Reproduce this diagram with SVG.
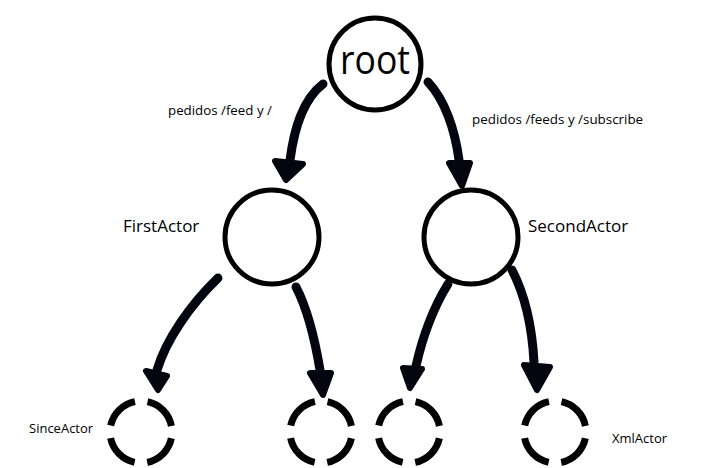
<svg xmlns="http://www.w3.org/2000/svg" width="722" height="468" viewBox="0 0 722 468">
<style>
.node{fill:#fff;stroke:#000;stroke-width:5}
.dash{fill:none;stroke:#000;stroke-width:7;stroke-dasharray:36 12.7;stroke-dashoffset:42.35}
.edge{fill:none;stroke:#05050f;stroke-width:9;stroke-linecap:round}
.head{fill:#05050f;stroke:#05050f;stroke-width:6;stroke-linejoin:round}
.lbl{font-family:"Open Sans","Noto Sans","Liberation Sans",sans-serif;fill:#000}
</style>
<rect width="722" height="468" fill="#fff"/>
<g id="connectors">
<path class="edge" d="M323,84 C302,100 294,130 290,160"/>
<polygon class="head" points="275,161 303,164 286,180"/>
<path class="edge" d="M428,82 C445,100 455,130 459,160"/>
<polygon class="head" points="449,163 470,163 462,186"/>
<path class="edge" d="M218,278 C190,305 166,340 157,370"/>
<polygon class="head" points="146,371 167,376 158,390"/>
<path class="edge" d="M296,287 C308,310 315,340 320,370"/>
<polygon class="head" points="310,373 331,373 323,395"/>
<path class="edge" d="M448,284 C435,305 423,335 416,366"/>
<polygon class="head" points="403,368 422,369 410,388"/>
<path class="edge" d="M512,270 C525,295 532,325 534,362"/>
<polygon class="head" points="524,365 550,367 537,390"/>
<text class="lbl" x="168" y="115" font-size="13.3">pedidos /feed y /</text>
<text class="lbl" x="472" y="124" font-size="13.4">pedidos /feeds y /subscribe</text>
</g>
<g id="root">
<circle class="node" cx="375" cy="64" r="46"/>
<text class="lbl" x="375" y="74" font-size="40" text-anchor="middle" textLength="70" lengthAdjust="spacingAndGlyphs">root</text>
</g>
<g id="FirstActor">
<circle class="node" cx="272" cy="237" r="47"/>
<text class="lbl" x="123" y="232" font-size="17">FirstActor</text>
</g>
<g id="SecondActor">
<circle class="node" cx="471" cy="237" r="47"/>
<text class="lbl" x="528" y="232" font-size="17">SecondActor</text>
</g>
<g id="SinceActor">
<circle class="dash" cx="141" cy="432" r="31"/>
<text class="lbl" x="29" y="433" font-size="13">SinceActor</text>
</g>
<g id="leaf2">
<circle class="dash" cx="321" cy="432" r="31"/>
</g>
<g id="leaf3">
<circle class="dash" cx="409" cy="432" r="31"/>
</g>
<g id="XmlActor">
<circle class="dash" cx="555" cy="432" r="31"/>
<text class="lbl" x="612" y="443" font-size="13">XmlActor</text>
</g>
</svg>
